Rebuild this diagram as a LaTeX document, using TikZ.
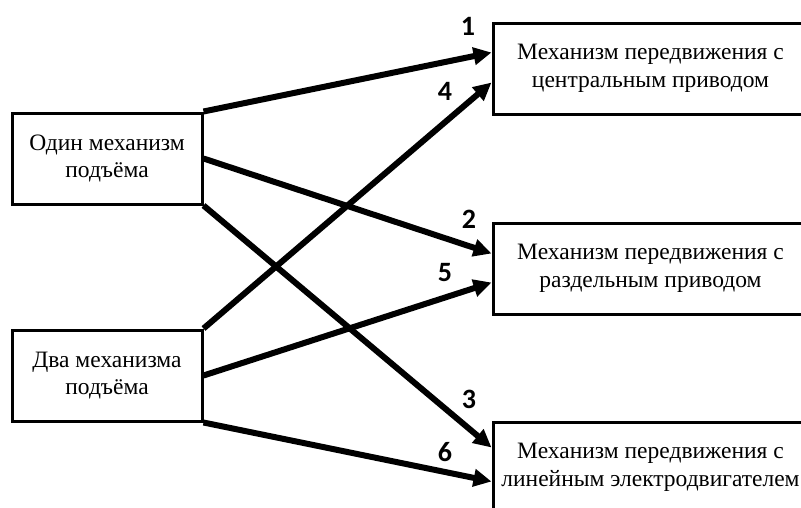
\documentclass[tikz,border=0pt]{standalone}
\usepackage{fontspec}
\setmainfont{Liberation Serif}
\newfontfamily\numfont{Carlito}
\usetikzlibrary{arrows.meta,positioning,calc}

\begin{document}
\begin{tikzpicture}[
  x=1pt, y=-1pt,
  font=\fontsize{23.5}{27.5}\selectfont,
  box/.style={draw, line width=3pt, inner sep=4pt, align=center},
  lift/.style={box, minimum width=190pt, minimum height=91pt},
  drive/.style={box, minimum width=315pt, minimum height=91pt},
  arr/.style={-{Triangle[length=18pt,width=17pt]}, line width=6pt},
  num/.style={font=\numfont\bfseries\fontsize{28}{32}\selectfont},
]
\useasboundingbox (0,0) rectangle (801,507);
\clip (0,0) rectangle (801,507);

% ── lifting mechanisms ───────────────────────────────────────────────────
\node[lift] (one) at (107,158.5) {Один механизм\\подъёма};
\node[lift] (two) at (107,375.5) {Два механизма\\подъёма};

% ── travel mechanisms ────────────────────────────────────────────────────
\node[drive] (central) at (650.5,68.5)  {Механизм передвижения с\\центральным приводом};
\node[drive] (split)   at (650.5,268.5) {Механизм передвижения с\\раздельным приводом};
\node[drive] (linear)  at (650.5,467.5) {Механизм передвижения с\\линейным электродвигателем};

% ── arrows ───────────────────────────────────────────────────────────────
\draw[arr] (one.north east) -- ([yshift=16pt]central.west);
\draw[arr] (one.east) -- ([yshift=15pt]split.west);
\draw[arr] (one.south east) -- ([yshift=20pt]linear.west);
\draw[arr] (two.north east) -- ([yshift=-14pt]central.west);
\draw[arr] (two.east) -- ([yshift=-14pt]split.west);
\draw[arr] (two.south east) -- ([yshift=-14pt]linear.west);

% ── numbers ──────────────────────────────────────────────────────────────
\node[num] (n1) at (468,26)  {1};
\node[num] (n4) at (445,91)  {4};
\node[num] (n2) at (469,219) {2};
\node[num] (n5) at (445,273) {5};
\node[num] (n3) at (469,399) {3};
\node[num] (n6) at (445,452) {6};
\end{tikzpicture}
\end{document}
